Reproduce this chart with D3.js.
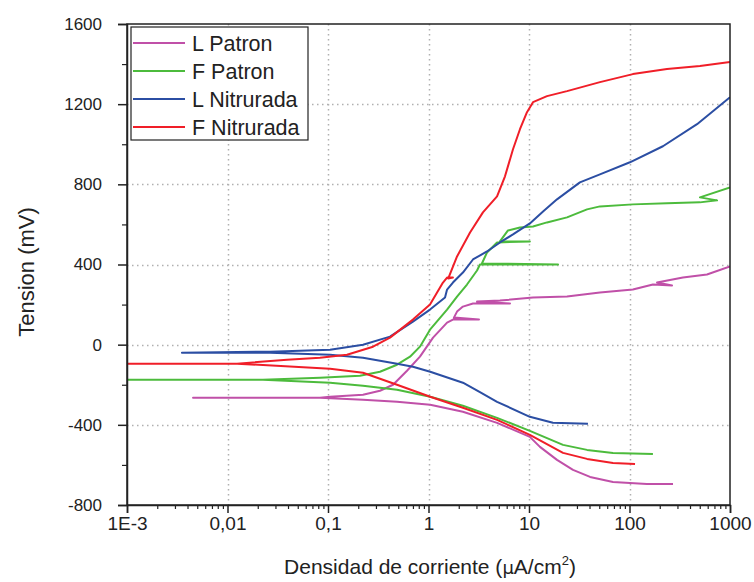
<!DOCTYPE html>
<html>
<head>
<meta charset="utf-8">
<script src="https://cdn.jsdelivr.net/npm/d3@7"></script>
<style>
  html, body { margin: 0; padding: 0; background: #fff; }
  svg { display: block; font-family: "Liberation Sans", Arial, sans-serif; }
</style>
</head>
<body>
<svg id="chart" width="754" height="582"></svg>
<script>
// ---- data: [current density (µA/cm²), potential (mV)] ----
const seriesNames = ["L Patron", "F Patron", "L Nitrurada", "F Nitrurada"];
const seriesColors = ["#c050a8", "#4cbb3c", "#2b4ea3", "#f01e28"];

const lPatron = [
  [271, -695], [149, -695], [68.5, -685], [40.5, -660], [27.4, -625], [19.0, -575],
  [12.85, -510], [10.2, -460], [4.81, -390], [2.20, -335], [1.04, -300], [0.486, -285],
  [0.223, -275], [0.0832, -265], [0.00454, -265],
  [0.0832, -265], [0.105, -260], [0.223, -250], [0.329, -230], [0.444, -200], [0.611, -130],
  [0.822, -60], [1.11, 35], [1.53, 110], [1.75, 125], [3.18, 125], [1.79, 135], [1.923, 165],
  [2.20, 190], [2.77, 205], [6.47, 205], [3.04, 215], [5.14, 220], [10.96, 235], [23.9, 240],
  [50.8, 260], [108, 275], [171, 300], [265, 295], [188, 310], [340, 335], [590, 350], [1000, 390]
];

const fPatron = [
  [171, -545], [68.5, -540], [37.8, -525], [21.8, -500], [10.2, -430], [4.81, -365],
  [2.20, -305], [1.04, -260], [0.486, -225], [0.223, -205], [0.105, -190], [0.02254, -175],
  [0.001, -175],
  [0.02254, -175], [0.0832, -165], [0.208, -155], [0.329, -135], [0.486, -100], [0.655, -60],
  [0.822, -10], [1.035, 75], [1.53, 175], [1.923, 240], [2.415, 300], [3.04, 370], [3.25, 400],
  [19.45, 400], [3.40, 405], [3.82, 460], [4.81, 510], [10.2, 515], [5.14, 515], [6.18, 570],
  [8.13, 585], [10.96, 590], [15.1, 610], [23.9, 635], [37.8, 675], [50.8, 690], [108, 700],
  [236, 705], [502, 710], [743, 720], [502, 735], [1000, 785]
];

const lNitrurada = [
  [38.6, -395], [17.3, -390], [10.2, -360], [4.81, -285], [3.25, -237], [2.20, -190],
  [1.04, -135], [0.70, -110], [0.486, -95], [0.223, -65], [0.105, -50], [0.0265, -40],
  [0.00352, -40],
  [0.0265, -35], [0.105, -25], [0.223, 0], [0.414, 40], [0.70, 115], [1.035, 175],
  [1.46, 235], [1.53, 275], [1.75, 310], [2.20, 360], [2.77, 425], [3.82, 465], [5.14, 510],
  [6.93, 550], [10.2, 605], [13.8, 665], [19.0, 725], [32.1, 810], [50.8, 850], [101, 910],
  [215, 990], [470, 1100], [1000, 1235]
];

const fNitrurada = [
  [113.5, -595], [68.5, -590], [37.8, -570], [21.8, -540], [10.2, -450], [4.81, -375],
  [2.20, -315], [1.04, -260], [0.486, -200], [0.223, -140], [0.105, -120], [0.01245, -95],
  [0.001, -95],
  [0.01245, -95], [0.0391, -75], [0.0832, -65], [0.1545, -50], [0.2805, -10], [0.414, 35],
  [0.70, 125], [1.035, 200], [1.393, 310], [1.53, 335], [1.75, 335], [1.57, 330], [1.923, 440],
  [2.59, 560], [3.48, 660], [4.81, 740], [5.77, 840], [6.93, 975], [8.13, 1075], [9.55, 1160],
  [10.96, 1210], [15.1, 1240], [23.9, 1265], [50.8, 1310], [108, 1350], [236, 1375],
  [502, 1390], [1000, 1410]
];

const xTickValues = [0.001, 0.01, 0.1, 1, 10, 100, 1000];
const xTickLabels = ["1E-3", "0,01", "0,1", "1", "10", "100", "1000"];
const yTickValues = [-800, -400, 0, 400, 800, 1200, 1600];
const yTickLabels = ["-800", "-400", "0", "400", "800", "1200", "1600"];
const xTitle = "Densidad de corriente (";
const yTitle = "Tension (mV)";

const allSeries = [lPatron, fPatron, lNitrurada, fNitrurada];

// ---- layout ----
const L = 127, R = 730, T = 24, B = 505;
const svg = d3.select("#chart");

const x = d3.scaleLog().domain([0.001, 1000]).range([L, R]);
const y = d3.scaleLinear().domain([-800, 1600]).range([B, T]);

// grid
const grid = svg.append("g").attr("stroke", "#b0b0b0").attr("stroke-width", 1.5)
  .attr("stroke-dasharray", "1.5,3.5");
xTickValues.slice(1, -1).forEach(v => {
  grid.append("line").attr("x1", Math.round(x(v)) + 0.5).attr("x2", Math.round(x(v)) + 0.5)
    .attr("y1", T).attr("y2", B);
});
yTickValues.slice(1, -1).forEach(v => {
  grid.append("line").attr("x1", L).attr("x2", R)
    .attr("y1", Math.round(y(v)) + 0.5).attr("y2", Math.round(y(v)) + 0.5);
});

// curves
svg.append("clipPath").attr("id", "clip").append("rect")
  .attr("x", L).attr("y", T).attr("width", R - L).attr("height", B - T);
const line = d3.line().x(d => x(d[0])).y(d => y(d[1])).curve(d3.curveLinear);
const curves = svg.append("g").attr("clip-path", "url(#clip)");
allSeries.forEach((s, i) => {
  curves.append("path").datum(s).attr("d", line)
    .attr("fill", "none").attr("stroke", seriesColors[i])
    .attr("stroke-width", 2).attr("stroke-linejoin", "round");
});

// frame
svg.append("rect").attr("x", L).attr("y", T).attr("width", R - L).attr("height", B - T)
  .attr("fill", "none").attr("stroke", "#222").attr("stroke-width", 1.5);

// x axis major
const xAxis = d3.axisBottom(x).tickValues(xTickValues)
  .tickFormat((d, i) => xTickLabels[i]).tickSize(8).tickPadding(4);
const gx = svg.append("g").attr("transform", `translate(0,${B})`).call(xAxis);
gx.select(".domain").attr("stroke", "#222").attr("stroke-width", 1.5);
gx.selectAll(".tick line").attr("stroke", "#222").attr("stroke-width", 1.5);
gx.selectAll(".tick text").attr("font-size", 19).attr("fill", "#222")
  .attr("font-family", "Liberation Sans, Arial, sans-serif");

// x axis minor
const minorX = [];
for (let e = -3; e < 3; e++) for (let m = 2; m <= 9; m++) minorX.push(m * Math.pow(10, e));
const gxm = svg.append("g").attr("transform", `translate(0,${B})`)
  .call(d3.axisBottom(x).tickValues(minorX).tickFormat("").tickSize(4));
gxm.select(".domain").remove();
gxm.selectAll(".tick line").attr("stroke", "#222").attr("stroke-width", 1.2);

// y axis major
const yAxis = d3.axisLeft(y).tickValues(yTickValues)
  .tickFormat((d, i) => yTickLabels[i]).tickSize(9).tickPadding(16);
const gy = svg.append("g").attr("transform", `translate(${L},0)`).call(yAxis);
gy.select(".domain").attr("stroke", "#222").attr("stroke-width", 1.5);
gy.selectAll(".tick line").attr("stroke", "#222").attr("stroke-width", 1.5);
gy.selectAll(".tick text").attr("font-size", 17).attr("fill", "#222")
  .attr("font-family", "Liberation Sans, Arial, sans-serif");

// y axis minor
const minorY = d3.range(-600, 1600, 400);
const gym = svg.append("g").attr("transform", `translate(${L},0)`)
  .call(d3.axisLeft(y).tickValues(minorY).tickFormat("").tickSize(5));
gym.select(".domain").remove();
gym.selectAll(".tick line").attr("stroke", "#222").attr("stroke-width", 1.2);

// axis titles
svg.append("text").attr("transform", "translate(34,272) rotate(-90)")
  .attr("text-anchor", "middle").attr("font-size", 22).attr("fill", "#222").text(yTitle);
const xt = svg.append("text").attr("x", 430).attr("y", 574)
  .attr("text-anchor", "middle").attr("font-size", 21).attr("fill", "#222");
xt.append("tspan").text(xTitle);
xt.append("tspan").attr("font-family", "DejaVu Sans, sans-serif").attr("font-size", 18).text("μ");
xt.append("tspan").text("A/cm");
xt.append("tspan").attr("font-size", 13).attr("dy", -9).text("2");
xt.append("tspan").attr("dy", 9).text(")");

// legend
const lg = svg.append("g");
lg.append("rect").attr("x", 131).attr("y", 27).attr("width", 177).attr("height", 113)
  .attr("fill", "#fff").attr("stroke", "#222").attr("stroke-width", 1.2);
seriesNames.forEach((n, i) => {
  const cy = 43 + i * 28;
  lg.append("line").attr("x1", 133).attr("x2", 185).attr("y1", cy).attr("y2", cy)
    .attr("stroke", seriesColors[i]).attr("stroke-width", 2);
  lg.append("text").attr("x", 192).attr("y", cy + 8).attr("font-size", 21.5)
    .attr("fill", "#222").text(n);
});
</script>
</body>
</html>
